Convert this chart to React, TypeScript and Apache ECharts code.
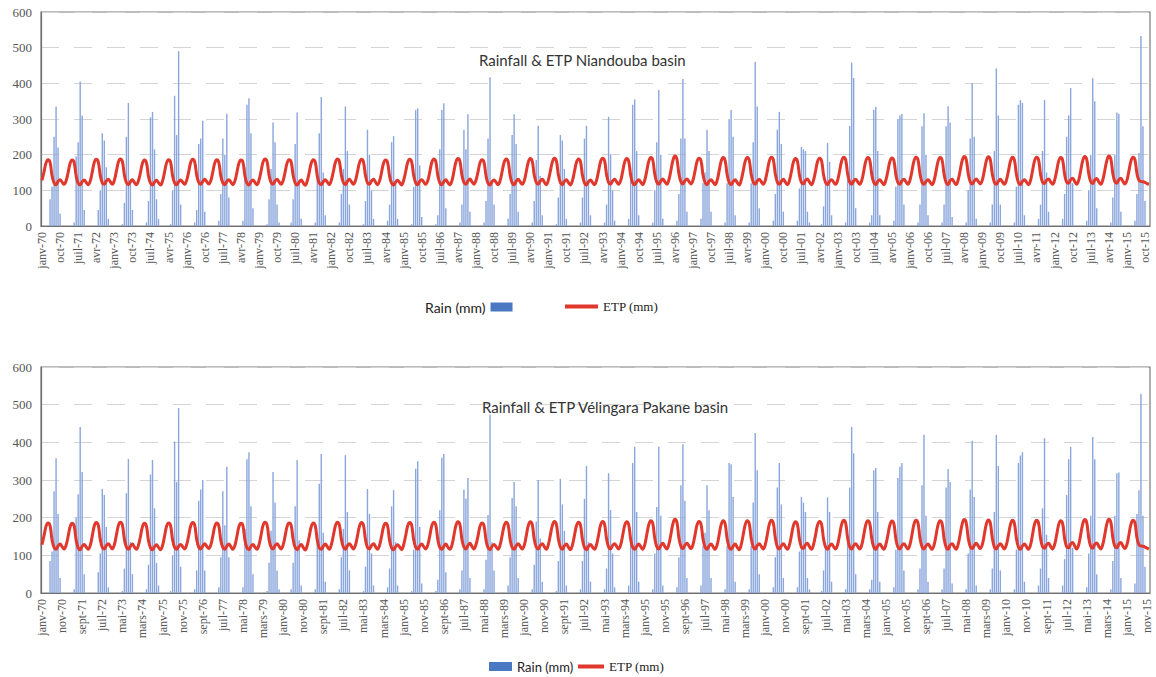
import React, { useEffect, useRef } from "react";
import * as echarts from "echarts";

// Monthly series, January 1970 to December 2015 (one row per year, Jan..Dec)
const monthNames = ["janv", "févr", "mars", "avr", "mai", "juin", "juil", "août", "sept", "oct", "nov", "déc"];
const firstYear = 1970;
const lastYear = 2015;

const rainNiandouba: number[][] = [
  [0, 0, 0, 0, 75, 110, 250, 335, 220, 35, 0, 0],
  [0, 0, 0, 0, 10, 195, 235, 405, 310, 45, 0, 0],
  [0, 0, 0, 0, 45, 100, 260, 240, 165, 20, 0, 0],
  [0, 0, 0, 0, 5, 65, 250, 345, 130, 45, 0, 0],
  [0, 0, 0, 0, 10, 70, 305, 320, 215, 75, 20, 0],
  [0, 0, 0, 0, 5, 100, 365, 255, 490, 60, 0, 0],
  [0, 0, 0, 0, 10, 45, 230, 245, 295, 40, 0, 0],
  [0, 0, 0, 0, 15, 90, 245, 200, 315, 80, 0, 0],
  [0, 0, 0, 0, 15, 165, 340, 358, 260, 50, 0, 0],
  [0, 0, 0, 0, 5, 75, 160, 290, 235, 60, 10, 0],
  [0, 0, 0, 0, 10, 75, 230, 318, 130, 20, 0, 0],
  [0, 0, 0, 0, 10, 130, 260, 362, 150, 30, 0, 0],
  [0, 0, 0, 0, 10, 90, 160, 335, 210, 60, 0, 0],
  [0, 0, 0, 0, 5, 70, 270, 200, 100, 20, 0, 0],
  [0, 0, 0, 0, 15, 60, 235, 252, 130, 20, 0, 0],
  [0, 0, 0, 0, 5, 110, 325, 330, 170, 25, 0, 0],
  [0, 0, 0, 0, 5, 30, 215, 325, 344, 50, 0, 0],
  [0, 0, 0, 0, 10, 60, 270, 215, 313, 40, 0, 0],
  [0, 0, 0, 0, 10, 70, 245, 417, 130, 60, 0, 0],
  [0, 0, 0, 0, 20, 90, 255, 313, 230, 40, 0, 0],
  [0, 0, 0, 0, 10, 70, 185, 281, 140, 30, 0, 0],
  [0, 0, 0, 0, 5, 80, 255, 240, 160, 20, 0, 0],
  [0, 0, 0, 0, 10, 80, 245, 281, 130, 30, 0, 0],
  [0, 0, 0, 0, 10, 60, 306, 200, 100, 15, 0, 0],
  [0, 0, 0, 0, 20, 130, 340, 355, 210, 30, 0, 0],
  [0, 0, 0, 0, 10, 100, 235, 381, 200, 20, 0, 0],
  [0, 0, 0, 0, 15, 90, 245, 412, 245, 40, 0, 0],
  [0, 0, 0, 0, 20, 120, 150, 270, 210, 40, 0, 0],
  [0, 0, 0, 0, 10, 120, 300, 325, 250, 30, 0, 0],
  [0, 0, 0, 0, 10, 120, 235, 460, 335, 50, 0, 0],
  [0, 0, 0, 0, 15, 90, 270, 320, 230, 40, 0, 0],
  [0, 0, 0, 0, 15, 105, 222, 215, 210, 40, 10, 0],
  [0, 0, 0, 0, 5, 55, 120, 233, 180, 30, 0, 0],
  [0, 0, 0, 0, 10, 130, 280, 458, 415, 50, 0, 0],
  [0, 0, 0, 0, 10, 30, 325, 334, 210, 30, 0, 0],
  [0, 0, 0, 0, 15, 110, 300, 310, 314, 60, 0, 0],
  [0, 0, 0, 0, 10, 60, 280, 316, 200, 30, 0, 0],
  [0, 0, 0, 0, 10, 60, 280, 336, 290, 25, 0, 0],
  [0, 0, 0, 0, 10, 100, 245, 400, 250, 20, 0, 0],
  [0, 0, 0, 0, 10, 60, 210, 442, 310, 60, 0, 0],
  [0, 0, 0, 0, 10, 110, 340, 353, 345, 30, 0, 0],
  [0, 0, 0, 0, 20, 60, 210, 353, 150, 40, 0, 0],
  [0, 0, 0, 0, 20, 90, 250, 310, 387, 120, 0, 0],
  [0, 0, 0, 0, 15, 100, 200, 414, 350, 50, 0, 0],
  [0, 0, 0, 0, 10, 80, 200, 318, 315, 40, 0, 0],
  [0, 0, 0, 0, 15, 90, 205, 533, 280, 70, 0, 0],
];

const rainVelingara: number[][] = [
  [0, 0, 0, 0, 85, 110, 270, 358, 210, 40, 0, 0],
  [0, 0, 0, 0, 10, 200, 262, 441, 321, 50, 0, 0],
  [0, 0, 0, 0, 55, 105, 276, 260, 175, 15, 0, 0],
  [0, 0, 0, 0, 5, 65, 265, 356, 135, 50, 0, 0],
  [0, 0, 0, 0, 10, 75, 315, 353, 225, 80, 20, 0],
  [0, 0, 0, 0, 5, 100, 402, 295, 491, 70, 0, 0],
  [0, 0, 0, 0, 10, 60, 245, 275, 300, 60, 0, 0],
  [0, 0, 0, 0, 15, 95, 270, 180, 335, 95, 0, 0],
  [0, 0, 0, 0, 15, 170, 355, 374, 230, 50, 0, 0],
  [0, 0, 0, 0, 5, 80, 165, 321, 240, 60, 10, 0],
  [0, 0, 0, 0, 10, 80, 230, 353, 140, 20, 0, 0],
  [0, 0, 0, 0, 10, 135, 290, 369, 160, 30, 0, 0],
  [0, 0, 0, 0, 10, 95, 170, 366, 215, 60, 0, 0],
  [0, 0, 0, 0, 5, 70, 276, 210, 105, 20, 0, 0],
  [0, 0, 0, 0, 15, 65, 230, 273, 135, 20, 0, 0],
  [0, 0, 0, 0, 5, 115, 330, 350, 175, 25, 0, 0],
  [0, 0, 0, 0, 5, 35, 220, 360, 369, 55, 0, 0],
  [0, 0, 0, 0, 10, 60, 275, 250, 305, 40, 0, 0],
  [0, 0, 0, 0, 10, 88, 207, 473, 135, 60, 0, 0],
  [0, 0, 0, 0, 20, 95, 252, 295, 230, 40, 0, 0],
  [0, 0, 0, 0, 10, 75, 190, 300, 145, 30, 0, 0],
  [0, 0, 0, 0, 5, 85, 303, 235, 165, 20, 0, 0],
  [0, 0, 0, 0, 10, 85, 250, 337, 135, 30, 0, 0],
  [0, 0, 0, 0, 10, 65, 318, 220, 105, 15, 0, 0],
  [0, 0, 0, 0, 20, 135, 345, 388, 215, 30, 0, 0],
  [0, 0, 0, 0, 10, 105, 228, 388, 205, 20, 0, 0],
  [0, 0, 0, 0, 15, 95, 286, 395, 245, 40, 0, 0],
  [0, 0, 0, 0, 20, 125, 160, 286, 220, 40, 0, 0],
  [0, 0, 0, 0, 10, 125, 345, 342, 255, 30, 0, 0],
  [0, 0, 0, 0, 10, 125, 240, 425, 326, 50, 0, 0],
  [0, 0, 0, 0, 15, 95, 280, 345, 235, 40, 0, 0],
  [0, 0, 0, 0, 15, 110, 255, 240, 215, 40, 10, 0],
  [0, 0, 0, 0, 5, 60, 125, 254, 215, 30, 0, 0],
  [0, 0, 0, 0, 10, 135, 280, 441, 371, 50, 0, 0],
  [0, 0, 0, 0, 10, 35, 325, 332, 215, 30, 0, 0],
  [0, 0, 0, 0, 15, 115, 305, 335, 345, 60, 0, 0],
  [0, 0, 0, 0, 10, 65, 286, 420, 205, 30, 0, 0],
  [0, 0, 0, 0, 10, 65, 280, 329, 295, 25, 0, 0],
  [0, 0, 0, 0, 10, 105, 275, 404, 255, 20, 0, 0],
  [0, 0, 0, 0, 10, 65, 215, 420, 337, 60, 0, 0],
  [0, 0, 0, 0, 10, 115, 345, 365, 374, 30, 0, 0],
  [0, 0, 0, 0, 20, 65, 225, 411, 155, 40, 0, 0],
  [0, 0, 0, 0, 20, 90, 260, 355, 388, 120, 0, 0],
  [0, 0, 0, 0, 15, 105, 205, 414, 355, 50, 0, 0],
  [0, 0, 0, 0, 10, 85, 205, 318, 320, 40, 0, 0],
  [0, 0, 0, 0, 25, 210, 273, 528, 205, 70, 0, 0],
];

const etpMonthly: number[][] = [
  [128, 152, 177, 186, 179, 141, 121, 116, 125, 130, 123, 117],
  [127, 150, 176, 185, 178, 140, 120, 115, 124, 129, 122, 116],
  [126, 151, 178, 187, 180, 142, 121, 117, 126, 131, 124, 117],
  [128, 153, 179, 188, 181, 143, 122, 116, 124, 130, 122, 116],
  [127, 150, 176, 185, 177, 139, 120, 115, 123, 128, 121, 115],
  [126, 151, 177, 186, 179, 141, 121, 116, 124, 129, 123, 117],
  [128, 152, 178, 187, 180, 142, 122, 117, 125, 131, 124, 118],
  [127, 151, 177, 186, 178, 140, 121, 116, 125, 130, 123, 116],
  [126, 150, 176, 185, 179, 141, 120, 115, 124, 129, 122, 116],
  [128, 153, 179, 188, 181, 143, 122, 117, 126, 131, 124, 117],
  [127, 151, 177, 186, 180, 142, 121, 115, 123, 129, 121, 114],
  [126, 150, 176, 186, 179, 141, 120, 116, 124, 130, 123, 116],
  [128, 152, 178, 188, 181, 143, 122, 116, 125, 131, 124, 117],
  [127, 151, 177, 187, 180, 142, 121, 117, 126, 131, 123, 116],
  [126, 150, 176, 185, 178, 140, 120, 115, 123, 128, 122, 115],
  [128, 152, 178, 187, 180, 142, 121, 116, 125, 130, 123, 117],
  [127, 151, 178, 188, 181, 142, 121, 116, 124, 130, 122, 116],
  [126, 152, 179, 189, 182, 143, 122, 117, 126, 132, 124, 117],
  [128, 151, 177, 186, 179, 141, 120, 115, 124, 129, 123, 116],
  [127, 152, 178, 188, 181, 142, 121, 116, 125, 131, 124, 117],
  [126, 151, 178, 189, 182, 143, 122, 117, 126, 131, 123, 116],
  [128, 153, 179, 190, 183, 144, 122, 116, 125, 130, 122, 115],
  [127, 152, 178, 188, 181, 142, 121, 115, 124, 129, 122, 116],
  [128, 153, 180, 190, 183, 144, 122, 117, 126, 131, 124, 117],
  [127, 152, 179, 189, 182, 143, 121, 116, 124, 130, 123, 116],
  [128, 154, 181, 192, 185, 145, 123, 117, 126, 132, 124, 117],
  [129, 155, 183, 196, 188, 147, 124, 118, 127, 132, 125, 118],
  [128, 153, 180, 190, 183, 144, 122, 116, 125, 130, 123, 116],
  [127, 153, 181, 192, 184, 145, 122, 116, 124, 130, 122, 115],
  [128, 154, 181, 192, 185, 145, 123, 117, 126, 131, 124, 117],
  [128, 154, 182, 193, 186, 146, 123, 117, 125, 131, 123, 116],
  [127, 152, 179, 189, 182, 143, 122, 118, 128, 132, 123, 116],
  [128, 153, 180, 190, 183, 144, 122, 116, 125, 130, 123, 117],
  [128, 154, 182, 193, 186, 146, 123, 117, 126, 131, 124, 117],
  [127, 153, 181, 192, 185, 145, 122, 116, 125, 130, 123, 116],
  [128, 153, 180, 191, 184, 144, 122, 117, 126, 131, 124, 117],
  [128, 154, 182, 193, 186, 146, 123, 117, 125, 130, 123, 116],
  [127, 153, 181, 192, 185, 145, 122, 116, 127, 131, 123, 116],
  [129, 155, 183, 195, 187, 147, 124, 118, 126, 132, 125, 118],
  [128, 154, 182, 194, 186, 146, 123, 117, 125, 131, 124, 117],
  [128, 153, 181, 193, 185, 145, 122, 116, 125, 130, 123, 116],
  [127, 154, 182, 193, 186, 146, 123, 119, 128, 132, 124, 117],
  [128, 153, 181, 192, 185, 145, 123, 120, 130, 134, 125, 117],
  [128, 155, 183, 195, 187, 147, 124, 119, 129, 133, 124, 117],
  [129, 155, 183, 196, 188, 147, 124, 120, 130, 134, 125, 118],
  [128, 154, 182, 193, 186, 147, 128, 125, 124, 122, 119, 117],
];

const months: string[] = [];
for (let y = firstYear; y <= lastYear; y++) {
  for (let m = 0; m < 12; m++) {
    months.push(`${monthNames[m]}-${String(y % 100).padStart(2, "0")}`);
  }
}

const flat = (rows: number[][]) => rows.reduce((acc, r) => acc.concat(r), [] as number[]);

const SERIF = "'Liberation Serif', 'DejaVu Serif', serif";
const SANS = "Lato, 'Open Sans', 'Liberation Sans', sans-serif";
const AXIS_GREY = "#6f6f6f";
const BAR_BLUE = "#8aa6dc";
const LEGEND_BLUE = "#4a78c2";
const ETP_RED = "#e0382c";

const xAxisFor = (gridIndex: number, every: number) => ({
  type: "category",
  gridIndex,
  data: months,
  boundaryGap: true,
  axisLine: { lineStyle: { color: AXIS_GREY, width: 1.2 } },
  axisTick: { interval: every - 1, alignWithLabel: true, length: 5, lineStyle: { color: AXIS_GREY } },
  axisLabel: {
    interval: every - 1,
    rotate: 90,
    fontFamily: SERIF,
    fontSize: 12,
    color: "#555",
    margin: 6,
  },
  splitLine: { show: false },
});

const yAxisFor = (gridIndex: number) => ({
  type: "value",
  gridIndex,
  min: 0,
  max: 600,
  interval: 100,
  axisLine: { show: true, lineStyle: { color: AXIS_GREY, width: 1.2 } },
  axisTick: { show: false },
  axisLabel: { fontFamily: SERIF, fontSize: 13, color: "#555", margin: 9 },
  splitLine: { lineStyle: { color: "#d4d4d4", type: [18, 15], width: 1 } },
});

export default function App() {
  const ref = useRef<HTMLDivElement>(null);

  useEffect(() => {
    document.body.style.margin = "0";
    if (!ref.current) return;
    const chart = echarts.init(ref.current, undefined, { renderer: "svg" });

    const rainTop = flat(rainNiandouba);
    const rainBottom = flat(rainVelingara);
    const etp = flat(etpMonthly);

    const gridBox = { show: true, borderColor: "#7a7a7a", borderWidth: 1.2, left: 41, width: 1109 };
    const titleStyle = { fontFamily: SANS, fontSize: 15, fontWeight: "normal", color: "#333" };

    chart.setOption({
      animation: false,
      backgroundColor: "#ffffff",
      title: [
        { text: "Rainfall & ETP Niandouba basin", left: 474, top: 47, textStyle: titleStyle },
        { text: "Rainfall & ETP Vélingara Pakane basin", left: 477, top: 394, textStyle: titleStyle },
      ],
      legend: [
        {
          data: [{ name: "Rain (mm)", itemStyle: { color: LEGEND_BLUE } }],
          left: 420,
          top: 295,
          align: "right",
          itemWidth: 22,
          itemHeight: 9,
          icon: "rect",
          textStyle: { fontFamily: SANS, fontSize: 14, color: "#222" },
        },
        {
          data: [{ name: "ETP (mm)", itemStyle: { color: ETP_RED } }],
          left: 560,
          top: 295,
          itemWidth: 33,
          itemHeight: 4,
          icon: "rect",
          textStyle: { fontFamily: SERIF, fontSize: 13, color: "#222" },
        },
        {
          data: [{ name: "Rain (mm)", itemStyle: { color: LEGEND_BLUE } }],
          left: 484,
          top: 655,
          itemWidth: 23,
          itemHeight: 9,
          icon: "rect",
          textStyle: { fontFamily: SANS, fontSize: 13, color: "#222" },
        },
        {
          data: [{ name: "ETP (mm)", itemStyle: { color: ETP_RED } }],
          left: 573,
          top: 655,
          itemWidth: 26,
          itemHeight: 4,
          icon: "rect",
          textStyle: { fontFamily: SERIF, fontSize: 13, color: "#222" },
        },
      ],
      grid: [
        { ...gridBox, top: 12, height: 214 },
        { ...gridBox, top: 367, height: 226 },
      ],
      xAxis: [xAxisFor(0, 9), xAxisFor(1, 10)],
      yAxis: [yAxisFor(0), yAxisFor(1)],
      series: [
        {
          name: "Rain (mm)",
          type: "bar",
          xAxisIndex: 0,
          yAxisIndex: 0,
          data: rainTop,
          barWidth: "70%",
          itemStyle: { color: BAR_BLUE },
        },
        {
          name: "ETP (mm)",
          type: "line",
          xAxisIndex: 0,
          yAxisIndex: 0,
          data: etp,
          smooth: 0.4,
          symbol: "none",
          lineStyle: { color: ETP_RED, width: 3 },
          itemStyle: { color: ETP_RED },
          z: 5,
        },
        {
          name: "Rain (mm)",
          type: "bar",
          xAxisIndex: 1,
          yAxisIndex: 1,
          data: rainBottom,
          barWidth: "70%",
          itemStyle: { color: BAR_BLUE },
        },
        {
          name: "ETP (mm)",
          type: "line",
          xAxisIndex: 1,
          yAxisIndex: 1,
          data: etp,
          smooth: 0.4,
          symbol: "none",
          lineStyle: { color: ETP_RED, width: 3 },
          itemStyle: { color: ETP_RED },
          z: 5,
        },
      ],
    });

    return () => chart.dispose();
  }, []);

  return <div ref={ref} style={{ width: 1156, height: 677 }} />;
}
